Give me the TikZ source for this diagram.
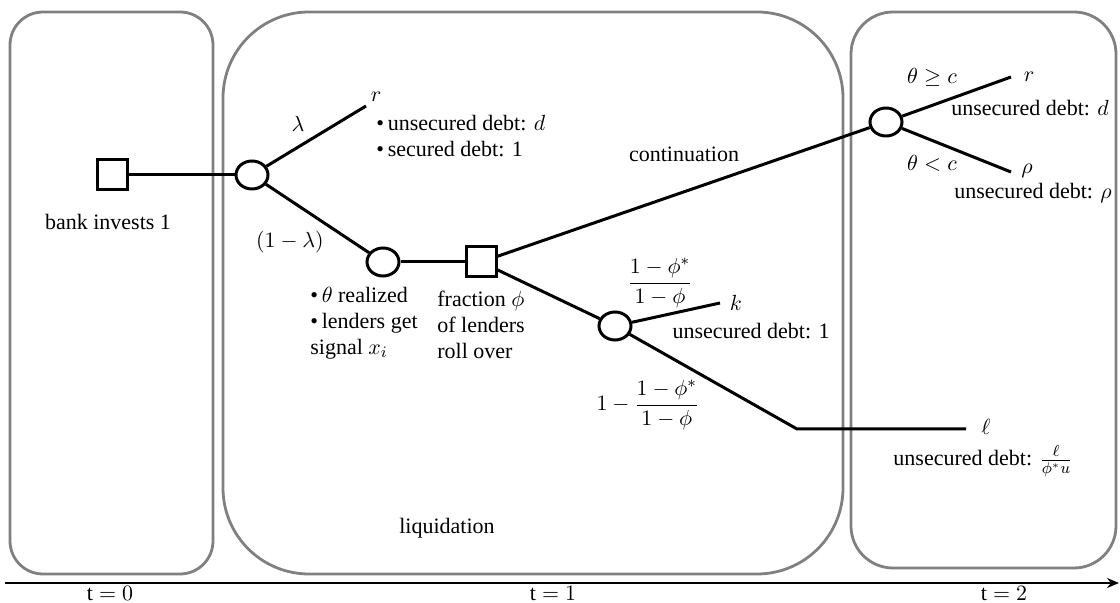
\documentclass[tikz,border=0pt]{standalone}
\usepackage{amsmath}
\usepackage{fontspec}
\setmainfont{Liberation Serif}
\newfontfamily\tnr{Liberation Serif}
\usetikzlibrary{shapes.geometric,arrows.meta}
\definecolor{boxgray}{RGB}{128,128,128}
\begin{document}
\begin{tikzpicture}[x=0.5pt,y=-0.5pt,
  chance/.style={ellipse,draw,line width=1.5pt,minimum width=16pt,minimum height=14pt,inner sep=0pt},
  decision/.style={rectangle,draw,line width=1.5pt,minimum size=15pt,inner sep=0pt},
  branch/.style={line width=1.5pt},
  period/.style={draw=boxgray,line width=1.4pt},
  lbl/.style={font=\tnr\fontsize{11}{13}\selectfont,inner sep=0pt}]
\useasboundingbox (0,0) rectangle (1120,603);
% period boxes
\draw[period,rounded corners=16.5pt] (10,12) rectangle (213,574);
\draw[period,rounded corners=43pt] (223,12) rectangle (843,574);
\draw[period,rounded corners=21pt] (851,12) rectangle (1116,568);
% time axis
\coordinate (ax0) at (5,583);
\coordinate (ax1) at (1119,583);
\draw[line width=1pt,-{Stealth[length=6pt,width=5pt]}] (ax0) -- (ax1);
\node[lbl] (t0) at (110,594) {$\mathrm{t}=0$};
\node[lbl] (t1) at (553,594) {$\mathrm{t}=1$};
\node[lbl] (t2) at (1004,594) {$\mathrm{t}=2$};
% tree nodes
\node[decision] (s1) at (112,175) {};
\node[chance] (c1) at (252,175) {};
\node[chance] (c2) at (383,262) {};
\node[decision] (s2) at (481,262) {};
\node[chance] (c3) at (615,326) {};
\node[chance] (c4) at (886,122) {};
\coordinate (lr1) at (366,106);
\coordinate (lk) at (720,303);
\coordinate (bend) at (797,429);
\coordinate (ll) at (966,429);
\coordinate (lr2) at (1011,77);
\coordinate (lrho) at (1011,172);
% branches
\draw[branch] (s1) -- (c1);
\draw[branch] (c1) -- (lr1);
\draw[branch] (c1) -- (c2);
\draw[branch] (c2) -- (s2);
\draw[branch] (s2) -- (c4);
\draw[branch] (s2) -- (c3);
\draw[branch] (c3) -- (lk);
\draw[branch] (c3) -- (bend) -- (ll);
\draw[branch] (c4) -- (lr2);
\draw[branch] (c4) -- (lrho);
% labels
\node[lbl] (bank) at (108,222) {bank invests 1};
\node[lbl] (lam) at (298,124) {$\lambda$};
\node[lbl] (olam) at (290,242) {$(1-\lambda)$};
\node[lbl] (r1) at (376,97) {$r$};
\node[lbl,align=left,anchor=west] (debt1) at (376,136) {•\,unsecured debt: $d$\\•\,secured debt: 1};
\node[lbl,align=left,anchor=west] (theta) at (310,323) {•\,$\theta$ realized\\•\,lenders get\\signal $x_i$};
\node[lbl,align=left,anchor=west] (frac) at (437,325) {fraction $\phi$\\of lenders\\roll over};
\node[lbl] (cont) at (684,154) {continuation};
\node[lbl] (pk) at (660,283) {$\dfrac{1-\phi^*}{1-\phi}$};
\node[lbl] (k) at (736,303) {$k$};
\node[lbl] (debtk) at (751,331) {unsecured debt: 1};
\node[lbl] (pl) at (648,405) {$1-\dfrac{1-\phi^*}{1-\phi}$};
\node[lbl] (l) at (986,427) {$\ell$};
\node[lbl] (debtl) at (983,461) {unsecured debt: $\frac{\ell}{\phi^* u}$};
\node[lbl] (ge) at (932,77) {$\theta\geq c$};
\node[lbl] (r2) at (1029,77) {$r$};
\node[lbl] (debtd) at (1030,108) {unsecured debt: $d$};
\node[lbl] (lt) at (932,163) {$\theta<c$};
\node[lbl] (rho) at (1027,171) {$\rho$};
\node[lbl] (debtrho) at (1033,193) {unsecured debt: $\rho$};
\node[lbl] (liq) at (447,528) {liquidation};
\end{tikzpicture}
\end{document}
